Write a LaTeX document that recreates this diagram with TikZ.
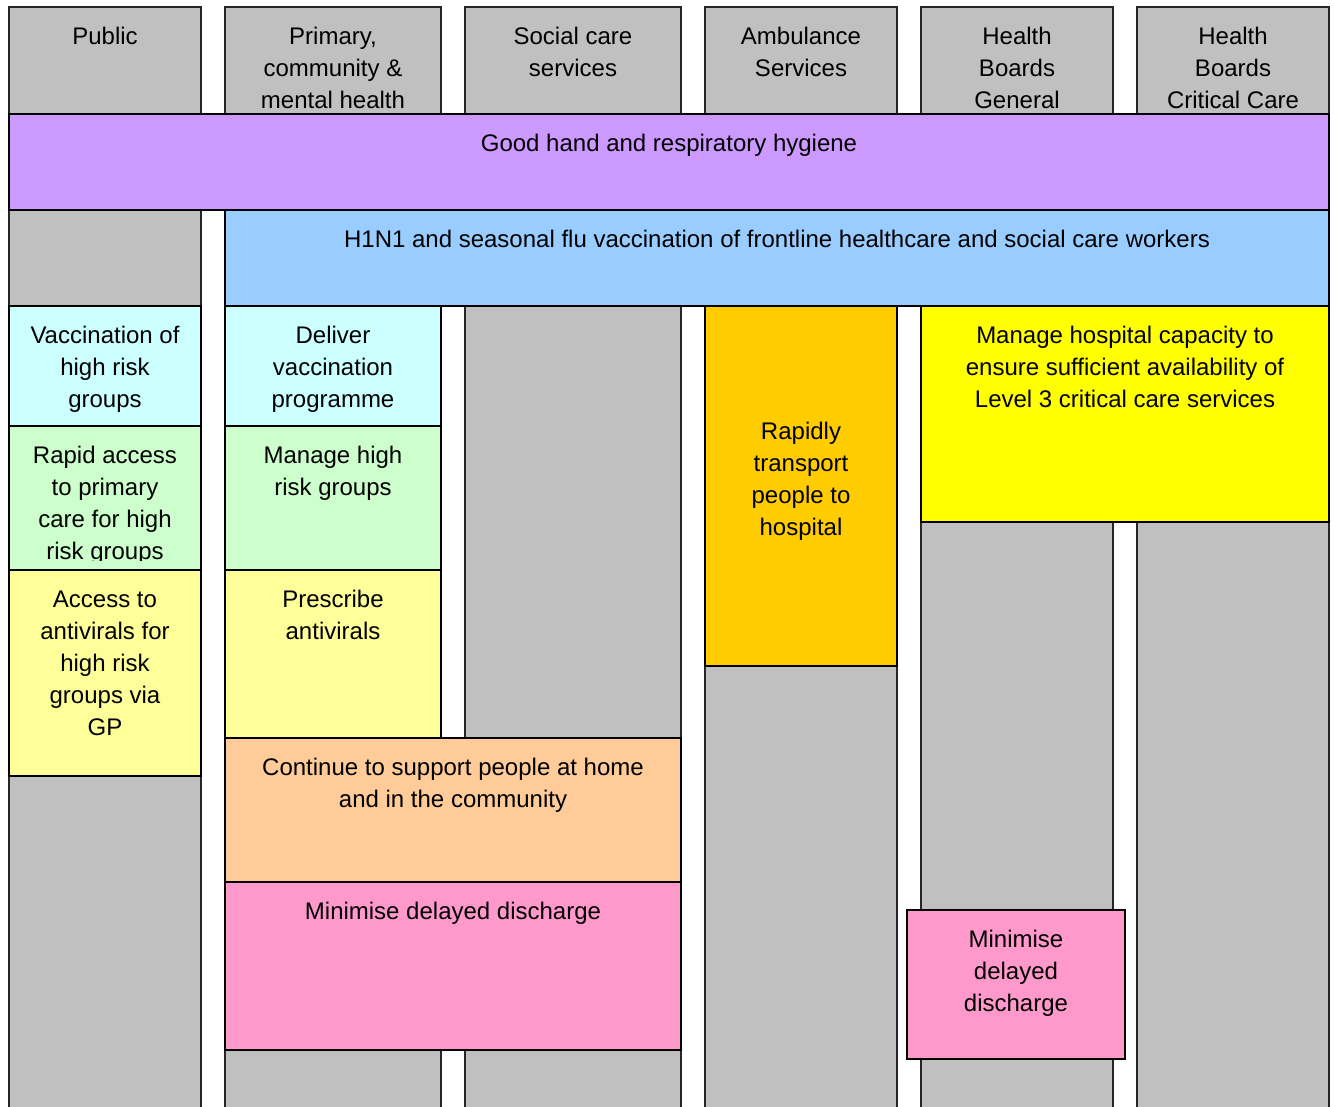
\documentclass[tikz,border=0pt]{standalone}
\usepackage{fontspec}
\setmainfont{Liberation Sans}
\usetikzlibrary{fit,calc}
\definecolor{cgray}{HTML}{C0C0C0}
\definecolor{cpurple}{HTML}{CC99FF}
\definecolor{cblue}{HTML}{99CCFF}
\definecolor{ccyan}{HTML}{CCFFFF}
\definecolor{cgreen}{HTML}{CCFFCC}
\definecolor{cpaleyellow}{HTML}{FFFF99}
\definecolor{cpeach}{HTML}{FFCC99}
\definecolor{cpink}{HTML}{FF99CC}
\definecolor{corange}{HTML}{FFCC00}
\definecolor{cyellow}{HTML}{FFFF00}
\newcommand{\ml}[1]{\begin{tabular}[t]{@{}c@{}}#1\end{tabular}}
\begin{document}
\begin{tikzpicture}[x=0.75pt,y=-0.75pt,
  colbox/.style={draw=black!85,line width=1.1pt,fill=cgray,inner sep=0pt},
  actbox/.style={draw=black,line width=1.5pt,inner sep=0pt},
  txt/.style={anchor=base,inner sep=0pt,font=\fontsize{18pt}{24pt}\selectfont}]
\useasboundingbox (0,0) rectangle (1334,1106);
\clip (0,0) rectangle (1334,1106);
% columns
\node[colbox,fit={(9,7) (201,1130)}] (cpub) {};
\node[colbox,fit={(225,7) (441,1130)}] (cpri) {};
\node[colbox,fit={(465,7) (681,1130)}] (csoc) {};
\node[colbox,fit={(705,7) (897,1130)}] (camb) {};
\node[colbox,fit={(921,7) (1113,1130)}] (chbg) {};
\node[colbox,fit={(1137,7) (1329,1130)}] (chbc) {};
\node[txt] (tpub) at ($(cpub.north)+(0,38)$) {\ml{Public}};
\node[txt] (tpri) at ($(cpri.north)+(0,38)$) {\ml{Primary,\\community \&\\mental health}};
\node[txt] (tsoc) at ($(csoc.north)+(0,38)$) {\ml{Social care\\services}};
\node[txt] (tamb) at ($(camb.north)+(0,38)$) {\ml{Ambulance\\Services}};
\node[txt] (thbg) at ($(chbg.north)+(0,38)$) {\ml{Health\\Boards\\General}};
\node[txt] (thbc) at ($(chbc.north)+(0,38)$) {\ml{Health\\Boards\\Critical Care}};
% activity boxes
\node[actbox,fill=cpurple,fit={(9,114) (1329,210)}] (bhyg) {};
\node[actbox,fill=cblue,fit={(225,210) (1329,306)}] (bvac) {};
\node[actbox,fill=ccyan,fit={(9,306) (201,426)}] (bvhr) {};
\node[actbox,fill=ccyan,fit={(225,306) (441,426)}] (bdel) {};
\node[actbox,fill=cgreen,fit={(9,426) (201,570)}] (brap) {};
\node[actbox,fill=cgreen,fit={(225,426) (441,570)}] (bman) {};
\node[actbox,fill=cpaleyellow,fit={(9,570) (201,776)}] (bacc) {};
\node[actbox,fill=cpaleyellow,fit={(225,570) (441,738)}] (bpre) {};
\node[actbox,fill=cpeach,fit={(225,738) (681,882)}] (bsup) {};
\node[actbox,fill=cpink,fit={(225,882) (681,1050)}] (bmin) {};
\node[actbox,fill=corange,fit={(705,306) (897,666)}] (btra) {};
\node[actbox,fill=cyellow,fit={(921,306) (1329,522)}] (bcap) {};
\node[actbox,fill=cpink,fit={(907,910) (1125,1059)}] (bmin2) {};
% texts
\node[txt] (thyg) at ($(bhyg.north)+(0,38)$) {\ml{Good hand and respiratory hygiene}};
\node[txt] (tvac) at ($(bvac.north)+(0,38)$) {\ml{H1N1 and seasonal flu vaccination of frontline healthcare and social care workers}};
\node[txt] (tvhr) at ($(bvhr.north)+(0,38)$) {\ml{Vaccination of\\high risk\\groups}};
\node[txt] (tdel) at ($(bdel.north)+(0,38)$) {\ml{Deliver\\vaccination\\programme}};
\begin{scope}
\clip (9,426) rectangle (201,560);
\node[txt] (trap) at ($(brap.north)+(0,38)$) {\ml{Rapid access\\to primary\\care for high\\risk groups}};
\end{scope}
\node[txt] (tman) at ($(bman.north)+(0,38)$) {\ml{Manage high\\risk groups}};
\node[txt] (tacc) at ($(bacc.north)+(0,38)$) {\ml{Access to\\antivirals for\\high risk\\groups via\\GP}};
\node[txt] (tpre) at ($(bpre.north)+(0,38)$) {\ml{Prescribe\\antivirals}};
\node[txt] (tsup) at ($(bsup.north)+(0,38)$) {\ml{Continue to support people at home\\and in the community}};
\node[txt] (tmin) at ($(bmin.north)+(0,38)$) {\ml{Minimise delayed discharge}};
\node[txt] (ttra) at ($(btra.north)+(0,134)$) {\ml{Rapidly\\transport\\people to\\hospital}};
\node[txt] (tcap) at ($(bcap.north)+(0,38)$) {\ml{Manage hospital capacity to\\ensure sufficient availability of\\Level 3 critical care services}};
\node[txt] (tmin2) at ($(bmin2.north)+(0,38)$) {\ml{Minimise\\delayed\\discharge}};
\end{tikzpicture}
\end{document}
